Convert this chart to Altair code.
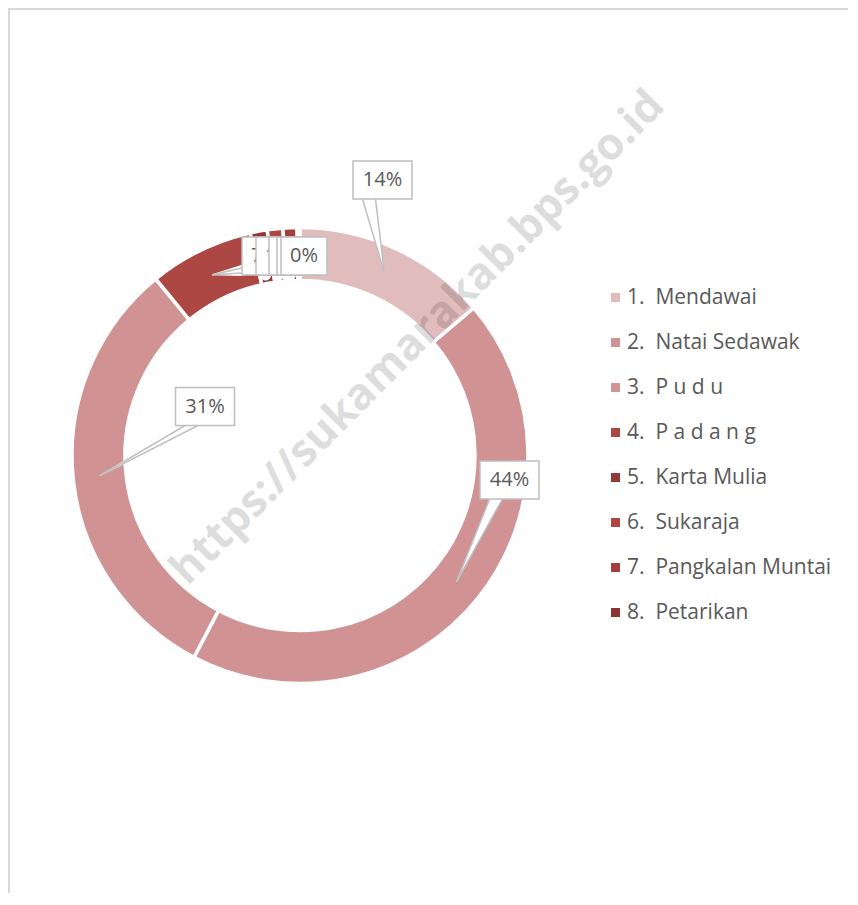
import altair as alt
import pandas as pd

# ---- data ----
labels = ["1.\u00a0\u00a0Mendawai", "2.\u00a0\u00a0Natai Sedawak", "3.\u00a0\u00a0P u d u",
          "4.\u00a0\u00a0P a d a n g", "5.\u00a0\u00a0Karta Mulia", "6.\u00a0\u00a0Sukaraja",
          "7.\u00a0\u00a0Pangkalan Muntai", "8.\u00a0\u00a0Petarikan"]
values = [13.8, 43.9, 31.4, 7.4, 1.2, 1.1, 1.0, 0.2]
colors = ["#E1BCBC", "#D09292", "#D09292", "#AC4744", "#943836", "#B04644", "#A23F3D", "#8C3331"]

# ---- callout layout (offsets of label boxes from the donut centre) ----
label_dx = [82.5, 209.5, -95, -35, -21, -8, 0, 4]
label_dy = [-275.5, 24.5, -49, -199.5, -199.5, -199.5, -199.5, -199.5]
leader_side = ["bottom", "bottom", "bottom", "left", "bottom", "bottom", "bottom", "bottom"]

W, H = 840, 885
CX, CY = 292, 447.5
R_OUT, R_IN, R_TIP = 228, 175, 201
GREY = "#BFBFBF"
TXT = "#595959"

df = pd.DataFrame({
    "idx": list(range(1, len(labels) + 1)),
    "label": labels,
    "value": values,
    "dx": label_dx,
    "dy": label_dy,
    "side": leader_side,
})

base = (
    alt.Chart(df)
    .transform_joinaggregate(total="sum(value)")
    .transform_window(cum="sum(value)", sort=[alt.SortField("idx")])
    .transform_calculate(
        mid=f"(datum.cum - datum.value/2)/datum.total*2*PI",
        pct="format(datum.value/datum.total, '.0%')",
    )
    .transform_calculate(
        tipx=f"{CX} + {R_TIP}*sin(datum.mid)",
        tipy=f"{CY} - {R_TIP}*cos(datum.mid)",
        bx=f"{CX} + datum.dx",
        by=f"{CY} + datum.dy",
        w="length(datum.pct) > 2 ? 59 : 46",
    )
    .transform_calculate(
        b1x="datum.side == 'left' ? datum.bx - datum.w/2 : datum.bx - 20",
        b1y="datum.side == 'left' ? datum.by + 12 : datum.by + 19",
        b2x="datum.side == 'left' ? datum.bx - datum.w/2 : datum.bx - 7",
        b2y="datum.side == 'left' ? datum.by + 17 : datum.by + 19",
        x1="datum.bx - datum.w/2",
        x2="datum.bx + datum.w/2",
        y1="datum.by - 19",
        y2="datum.by + 19",
    )
)

arc = base.mark_arc(outerRadius=R_OUT, innerRadius=R_IN, stroke="white", strokeWidth=3.5).encode(
    theta=alt.Theta("value:Q", stack=True),
    order=alt.Order("idx:Q"),
    color=alt.Color(
        "label:N",
        scale=alt.Scale(domain=labels, range=colors),
        sort=labels,
        legend=alt.Legend(
            title=None, orient="none", legendX=597, legendY=279,
            symbolType="square", symbolSize=81, symbolStrokeWidth=0,
            labelFont="Open Sans", labelFontSize=21, labelColor=TXT,
            labelOffset=1, rowPadding=23, padding=0, labelLimit=400,
        ),
    ),
    x=alt.value(CX),
    y=alt.value(CY),
)

# white wedge of each leader
wedge = (
    base.transform_calculate(pt="[0, 1]")
    .transform_flatten(["pt"])
    .transform_calculate(
        px="datum.pt == 0 ? (datum.b1x + datum.b2x)/2 : datum.tipx",
        py="datum.pt == 0 ? (datum.b1y + datum.b2y)/2 : datum.tipy",
        sz="datum.pt == 0 ? 11 : 0",
    )
    .mark_trail(color="white")
    .encode(
        x=alt.X("px:Q", scale=None),
        y=alt.Y("py:Q", scale=None),
        size=alt.Size("sz:Q", scale=None, legend=None),
        detail="idx:N",
        order="pt:Q",
    )
)

lead1 = base.mark_rule(color=GREY, strokeWidth=1.5).encode(
    x=alt.X("tipx:Q", scale=None), y=alt.Y("tipy:Q", scale=None),
    x2="b1x:Q", y2="b1y:Q",
)
lead2 = base.mark_rule(color=GREY, strokeWidth=1.5).encode(
    x=alt.X("tipx:Q", scale=None), y=alt.Y("tipy:Q", scale=None),
    x2="b2x:Q", y2="b2y:Q",
)

layers = [arc, wedge, lead1, lead2]

for i in range(1, len(labels) + 1):
    sub = base.transform_filter(f"datum.idx == {i}")
    box = sub.mark_rect(fill="white", stroke=GREY, strokeWidth=1.5).encode(
        x=alt.X("x1:Q", scale=None), x2="x2:Q",
        y=alt.Y("y1:Q", scale=None), y2="y2:Q",
    )
    txt = sub.mark_text(font="Open Sans", fontSize=20, color=TXT, align="center", baseline="middle").encode(
        x=alt.X("bx:Q", scale=None), y=alt.Y("by:Q", scale=None), text="pct:N",
    )
    layers += [box, txt]

watermark = (
    alt.Chart(df).transform_filter("datum.idx == 1")
    .mark_text(text="https://sukamarakab.bps.go.id", angle=315, font="Open Sans",
               fontWeight="bold", fontSize=44, color="black", opacity=0.13,
               align="center", baseline="middle")
    .encode(x=alt.value(410), y=alt.value(330))
)

one = alt.Chart(df).transform_filter("datum.idx == 1")
border_top = one.mark_rule(color="#D9D9D9", strokeWidth=2).encode(
    x=alt.value(0), x2=alt.value(W), y=alt.value(1))
border_left = one.mark_rule(color="#D9D9D9", strokeWidth=2).encode(
    x=alt.value(1), y=alt.value(0), y2=alt.value(H))

layers += [watermark, border_top, border_left]

chart = (
    alt.layer(*layers)
    .properties(width=W, height=H, autosize=alt.AutoSizeParams(type="none"), padding=0,
                background="white")
    .configure_view(strokeWidth=0)
)

chart.save("out.html", embed_options={"renderer": "svg", "actions": False})
